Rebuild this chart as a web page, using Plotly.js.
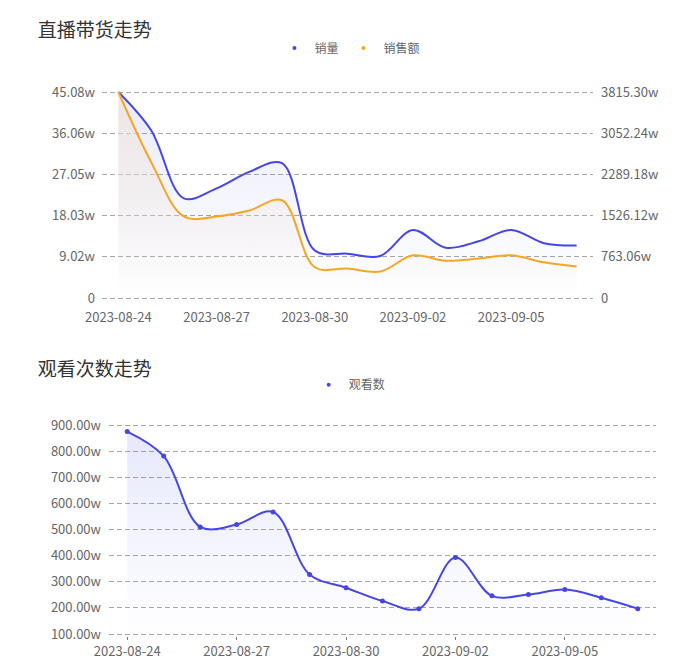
<!DOCTYPE html>
<html>
<head>
<meta charset="utf-8">
<script src="https://cdn.plot.ly/plotly-3.0.1.min.js"></script>
<style>
  body { margin: 0; background: #fff; }
  #salesChart, #viewChart { width: 700px; }
</style>
</head>
<body>
<div id="salesChart"></div>
<div id="viewChart"></div>
<script>
// dates on the category axis
var dates = ['2023-08-24', '2023-08-25', '2023-08-26', '2023-08-27', '2023-08-28',
  '2023-08-29', '2023-08-30', '2023-08-31', '2023-09-01', '2023-09-02',
  '2023-09-03', '2023-09-04', '2023-09-05', '2023-09-06', '2023-09-07'];
var shownDates = ['2023-08-24', '2023-08-27', '2023-08-30', '2023-09-02', '2023-09-05'];

// 销量 (w), left axis
var salesVolume = [45.08, 36.7, 21.8, 24.0, 27.6, 29.5, 10.4, 9.7, 9.2, 14.9, 11.0, 12.4, 14.9, 12.0, 11.5];
// 销售额 (w), right axis
var salesAmount = [3815.30, 2520, 1510, 1510, 1620, 1810, 570, 545, 490, 790, 690, 730, 790, 660, 585];
// 观看数 (w)
var views = [875, 781, 510, 519, 567, 328, 277, 226, 197, 393, 246, 251, 270, 239, 197];

// tick labels
var volumeTicks = [0, 9.016, 18.032, 27.048, 36.064, 45.08];
var volumeLabels = ['0', '9.02w', '18.03w', '27.05w', '36.06w', '45.08w'];
var amountTicks = [0, 763.06, 1526.12, 2289.18, 3052.24, 3815.30];
var amountLabels = ['0', '763.06w', '1526.12w', '2289.18w', '3052.24w', '3815.30w'];
var viewTicks = [100, 200, 300, 400, 500, 600, 700, 800, 900];
var viewLabels = ['100.00w', '200.00w', '300.00w', '400.00w', '500.00w', '600.00w', '700.00w', '800.00w', '900.00w'];

var BLUE = '#4646e6';
var ORANGE = '#f5a623';
var FONT = '"Noto Sans CJK SC", "Noto Sans", sans-serif';
var tickFont = {family: FONT, size: 13, color: '#666'};
var GRID = {showgrid: true, gridcolor: '#a6a6a6', griddash: '5px,3px', gridwidth: 1};

// plotly hides gridlines sitting right on the plot edge, so pad the range by a couple of px
function padded(lo, hi, innerPx, padPx) {
  var u = (hi - lo) / innerPx;
  return [lo - padPx * u, hi + padPx * u];
}

// ---- top chart
var volTrace = {
  x: dates, y: salesVolume, name: '销量', yaxis: 'y',
  type: 'scatter', mode: 'lines', showlegend: false,
  line: {color: BLUE, width: 2, shape: 'spline', smoothing: 1},
  fill: 'tozeroy',
  fillgradient: {type: 'vertical', start: 0, stop: 45.08,
    colorscale: [[0, 'rgba(70,90,230,0)'], [1, 'rgba(70,90,230,0.12)']]}
};
var amtTrace = {
  x: dates, y: salesAmount, name: '销售额', yaxis: 'y2',
  type: 'scatter', mode: 'lines', showlegend: false,
  line: {color: ORANGE, width: 2, shape: 'spline', smoothing: 1},
  fill: 'tozeroy',
  fillgradient: {type: 'vertical', start: 0, stop: 3815.3,
    colorscale: [[0, 'rgba(240,228,218,0)'], [1, 'rgba(240,228,218,0.7)']]}
};
// legend-only entries so the legend shows dots
var volKey = {x: [null], y: [null], name: '销量', type: 'scatter', mode: 'markers',
  marker: {color: BLUE, size: 4}};
var amtKey = {x: [null], y: [null], name: '销售额', type: 'scatter', mode: 'markers',
  marker: {color: ORANGE, size: 4}};

var topLayout = {
  width: 700, height: 332,
  margin: {l: 102, r: 107, t: 90, b: 32},
  paper_bgcolor: '#fff', plot_bgcolor: '#fff',
  font: {family: FONT},
  title: {text: '直播带货走势', x: 0.054, xanchor: 'left', y: 0.91, yanchor: 'middle',
    font: {family: FONT, size: 19, color: '#333'}},
  showlegend: true,
  legend: {orientation: 'h', x: 0.505, xanchor: 'center', y: 1.2, yanchor: 'middle',
    font: {family: FONT, size: 12, color: '#666'}},
  // invisible short ticks just push the date labels a little clear of the "0"
  xaxis: {type: 'category', range: [-0.5, 14.5], tickvals: shownDates,
    showgrid: false, zeroline: false, showline: false,
    ticks: 'outside', ticklen: 5, tickcolor: 'rgba(0,0,0,0)', tickfont: tickFont},
  yaxis: Object.assign({range: padded(0, 45.08, 206, 2), tickvals: volumeTicks, ticktext: volumeLabels,
    zeroline: false, ticks: '', tickfont: tickFont, ticklabelstandoff: 6}, GRID),
  yaxis2: {overlaying: 'y', side: 'right', range: padded(0, 3815.3, 206, 2), tickvals: amountTicks,
    ticktext: amountLabels, showgrid: false, zeroline: false, ticks: '', tickfont: tickFont,
    ticklabelstandoff: 7}
};

Plotly.newPlot('salesChart', [volTrace, amtTrace, volKey, amtKey], topLayout, {staticPlot: true});

// ---- bottom chart
var viewTrace = {
  x: dates, y: views, name: '观看数',
  type: 'scatter', mode: 'lines+markers', showlegend: false,
  line: {color: BLUE, width: 2, shape: 'spline', smoothing: 1},
  marker: {color: BLUE, size: 5},
  fill: 'tozeroy',
  fillgradient: {type: 'vertical', start: 100, stop: 900,
    colorscale: [[0, 'rgba(70,90,230,0)'], [1, 'rgba(70,90,230,0.14)']]}
};
var viewKey = {x: [null], y: [null], name: '观看数', type: 'scatter', mode: 'markers',
  marker: {color: BLUE, size: 4}};

var bottomLayout = {
  width: 700, height: 333,
  margin: {l: 109, r: 44, t: 91, b: 29},
  paper_bgcolor: '#fff', plot_bgcolor: '#fff',
  font: {family: FONT},
  title: {text: '观看次数走势', x: 0.054, xanchor: 'left', y: 0.889, yanchor: 'middle',
    font: {family: FONT, size: 19, color: '#333'}},
  showlegend: true,
  legend: {orientation: 'h', x: 0.44, xanchor: 'center', y: 1.18, yanchor: 'middle',
    font: {family: FONT, size: 12, color: '#666'}},
  xaxis: {type: 'category', range: [-0.5, 14.5], tickvals: shownDates,
    showgrid: false, zeroline: false, showline: false,
    ticks: 'outside', ticklen: 3, tickcolor: '#777', tickfont: tickFont},
  yaxis: Object.assign({range: padded(100, 900, 209, 2), tickvals: viewTicks, ticktext: viewLabels,
    zeroline: false, ticks: '', tickfont: tickFont, ticklabelstandoff: 7}, GRID)
};

Plotly.newPlot('viewChart', [viewTrace, viewKey], bottomLayout, {staticPlot: true});
</script>
</body>
</html>
